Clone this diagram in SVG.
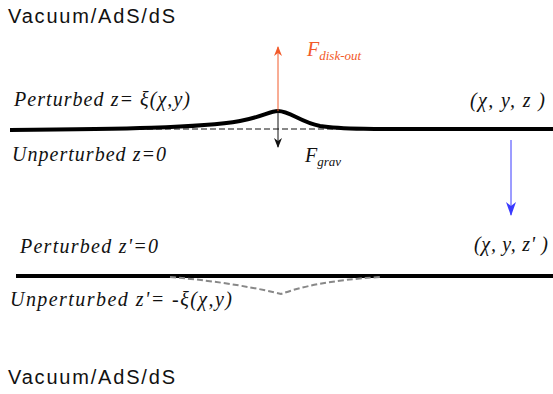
<svg xmlns="http://www.w3.org/2000/svg" width="553" height="394" viewBox="0 0 553 394">
<style>
.sans{font-family:"Liberation Sans",Arial,sans-serif;font-size:20px;fill:#111}
.scr{font-family:"Liberation Serif","DejaVu Serif",serif;font-style:italic;font-size:20px;fill:#111}
.surf{fill:none;stroke:#000;stroke-width:4}
.dash{fill:none;stroke:#888;stroke-width:2;stroke-dasharray:6 3}
</style>
<defs>
<marker id="aO" markerWidth="10" markerHeight="8" refX="9" refY="4" orient="auto" markerUnits="userSpaceOnUse" viewBox="0 0 10 8"><path d="M0,0 L10,4 L0,8 L3,4 Z" fill="#f25a2a"/></marker>
<marker id="aK" markerWidth="10" markerHeight="8" refX="9" refY="4" orient="auto" markerUnits="userSpaceOnUse" viewBox="0 0 10 8"><path d="M0,0 L10,4 L0,8 L3,4 Z" fill="#111"/></marker>
<marker id="aB" markerWidth="14" markerHeight="10" refX="13" refY="5" orient="auto" markerUnits="userSpaceOnUse" viewBox="0 0 14 10"><path d="M0,0 L14,5 L0,10 L4,5 Z" fill="#3a3aff"/></marker>
</defs>
<g id="labels">
<text class="sans" x="8" y="23" textLength="167" lengthAdjust="spacing">Vacuum/AdS/dS</text>
<text class="sans" x="8" y="384" textLength="167" lengthAdjust="spacing">Vacuum/AdS/dS</text>
<text class="scr" x="14" y="106" textLength="176">Perturbed z= ξ(χ,y)</text>
<text class="scr" x="12" y="161" textLength="154">Unperturbed z=0</text>
<text class="scr" x="470" y="107" textLength="75">(χ, y, z )</text>
<text class="scr" x="20" y="253" textLength="138">Perturbed z'=0</text>
<text class="scr" x="474" y="251" textLength="74">(χ, y, z' )</text>
<text class="scr" x="10" y="306" textLength="222">Unperturbed z'= -ξ(χ,y)</text>
<text class="scr" x="307" y="56" style="fill:#f25a2a">F<tspan font-size="13" dy="4">disk-out</tspan></text>
<text class="scr" x="305" y="162">F<tspan font-size="13" dy="4">grav</tspan></text>
</g>
<g id="surface-top">
<path class="dash" d="M12,129 L365,129"/>
<path class="surf" d="M10,130 C120,129 200,128 240,121 C262,117 270,111 278,111 C290,111 300,122 320,126 C345,130 380,129 553,129"/>
</g>
<g id="surface-bottom">
<path class="surf" d="M16,276 L553,276"/>
<path class="dash" d="M170,277 C220,281 262,289 281,294 C300,287 330,280 380,277"/>
</g>
<g id="connectors">
<line x1="278" y1="111" x2="278" y2="47" stroke="#f25a2a" stroke-width="1" marker-end="url(#aO)"/>
<line x1="278" y1="111" x2="278" y2="147" stroke="#111" stroke-width="1" marker-end="url(#aK)"/>
<line x1="511" y1="140" x2="511" y2="215" stroke="#3a3aff" stroke-width="1" marker-end="url(#aB)"/>
</g>
</svg>
